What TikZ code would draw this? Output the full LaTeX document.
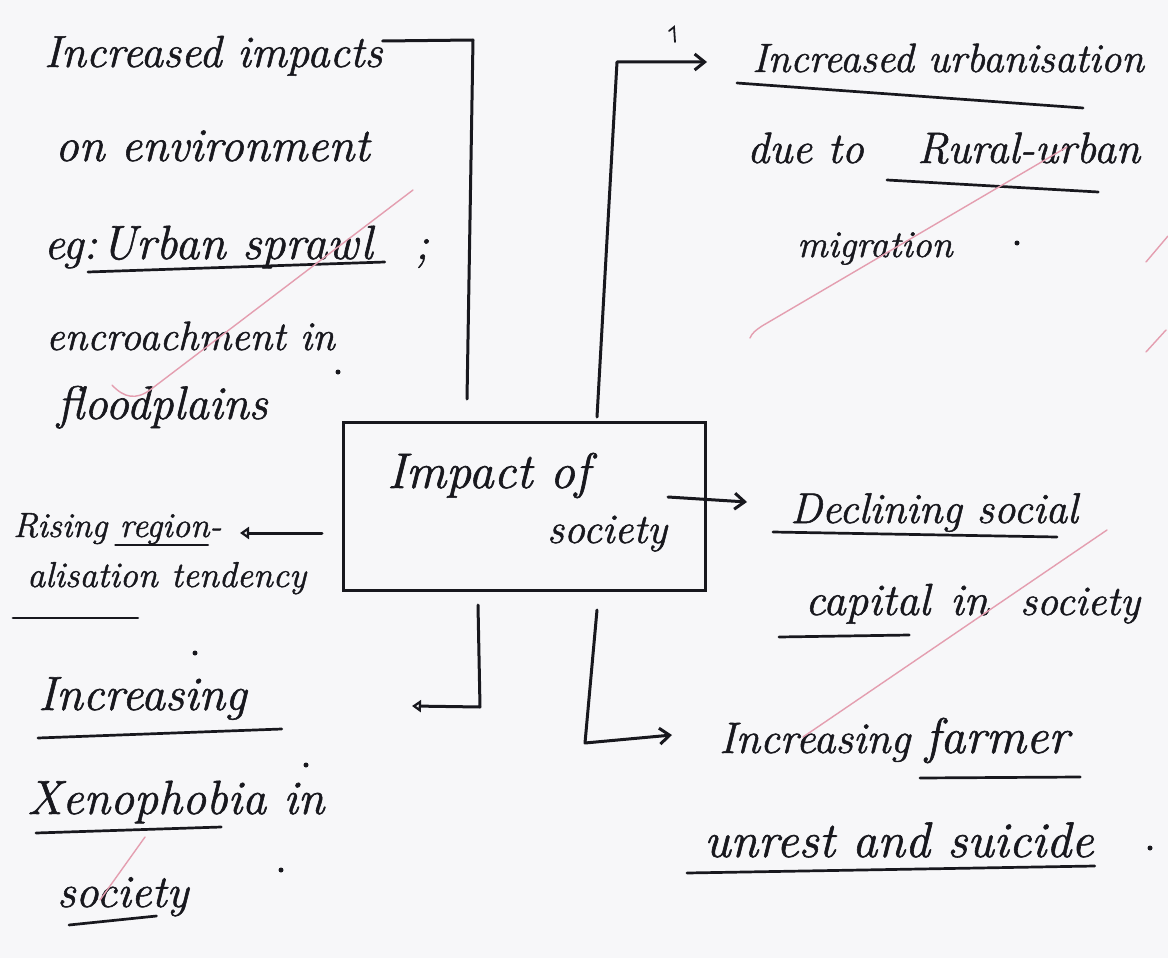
\documentclass[tikz,border=0pt]{standalone}
\usepackage{fontspec}
\usetikzlibrary{arrows.meta}
\definecolor{ink}{RGB}{24,24,30}
\definecolor{paper}{RGB}{247,247,249}
\definecolor{redpen}{RGB}{228,158,176}
\newfontfamily\handfont{lmroman12-italic.otf}[FakeBold=1.2]
\newcommand\hw[1]{\handfont\fontsize{#1}{#1}\selectfont}

\begin{document}
\begin{tikzpicture}[x=1pt,y=-1pt,
  txt/.style={inner sep=0pt, anchor=base west, text=ink},
  pen/.style={draw=ink, line width=3pt, line cap=round, line join=round},
  ul/.style={draw=ink, line width=2.7pt, line cap=round},
  barb/.style={pen, -{Straight Barb[length=10pt,width=16pt]}},
  tri/.style={pen, -{Triangle[open,length=9pt,width=12pt]}},
  redtick/.style={draw=redpen, line width=1.4pt, line cap=round},
  spot/.style={fill=ink, draw=none}]

% sheet
\fill[paper] (0,0) rectangle (1168,958);
\useasboundingbox (0,0) rectangle (1168,958);

% central box
\node[draw=ink, line width=3pt, minimum width=362pt, minimum height=168pt, inner sep=0pt] (box) at (524.5,506) {};
\node[txt, font=\hw{50}] (imp) at (387,488) {Impact of};
\node[txt, font=\hw{42}] (soc) at (547,543) {society};

% left column
\node[txt, font=\hw{45}] (l1) at (44,67) {Increased impacts};
\node[txt, font=\hw{47}] (l2) at (55,161) {on environment};
\node[txt, font=\hw{46}] (l3a) at (44,259) {eg:};
\node[txt, font=\hw{48}] (l3b) at (101,259) {Urban sprawl};
\node[txt, font=\hw{46}] (l3c) at (415,259) {;};
\node[txt, font=\hw{41}] (l4) at (46,350) {encroachment in};
\node[txt, font=\hw{47}] (l5) at (57,419) {floodplains};
\node[txt, font=\hw{35}] (l6a) at (13,537) {Rising};
\node[txt, font=\hw{35}] (l6b) at ([xshift=12pt]l6a.base east) {region-};
\node[txt, font=\hw{36}] (l7a) at (27,587) {alisation};
\node[txt, font=\hw{36}] (l7b) at ([xshift=13pt]l7a.base east) {tendency};
\node[txt, font=\hw{48}] (l8) at (38,710) {Increasing};
\node[txt, font=\hw{48}] (l9a) at (27,814) {Xenophobia};
\node[txt, font=\hw{48}] (l9b) at ([xshift=17pt]l9a.base east) {in};
\node[txt, font=\hw{46}] (l10) at (57,907) {society};

% right column
\node[txt, font=\hw{41}] (r1) at (752,72) {Increased urbanisation};
\node[txt, font=\hw{44}] (r2a) at (747,163) {due to};
\node[txt, font=\hw{44}] (r2b) at (917,163) {Rural-urban};
\node[txt, font=\hw{38}] (r3) at (797,257) {migration};
\node[txt, font=\hw{43}] (r4) at (790,523) {Declining social};
\node[txt, font=\hw{45}] (r5a) at (805,615) {capital};
\node[txt, font=\hw{45}] (r5b) at (950,615) {in};
\node[txt, font=\hw{42}] (r5c) at (1020,615) {society};
\node[txt, font=\hw{44}] (r6a) at (719,753) {Increasing};
\node[txt, font=\hw{50}] (r6b) at (925,753) {farmer};
\node[txt, font=\hw{50}] (r7) at (704,857) {unrest and suicide};

% underlines
\draw[ul] ([xshift=-13pt,yshift=-13pt]l3b.base west) -- ([xshift=12pt,yshift=-3pt]l3b.base east);
\draw[ul] ([xshift=-4pt,yshift=-8pt]l6b.base west) -- ([xshift=-14pt,yshift=-8pt]l6b.base east);
\draw[ul] ([xshift=-14pt,yshift=-31pt]l7a.base west) -- ([xshift=-20pt,yshift=-31pt]l7a.base east);
\draw[ul] ([yshift=-28pt]l8.base west) -- ([xshift=35pt,yshift=-19pt]l8.base east);
\draw[ul] ([xshift=9pt,yshift=-19pt]l9a.base west) -- ([xshift=-45pt,yshift=-13pt]l9a.base east);
\draw[ul] ([xshift=12pt,yshift=-18pt]l10.base west) -- ([xshift=-32pt,yshift=-9pt]l10.base east);
\draw[ul] ([xshift=-15pt,yshift=-11pt]r1.base west) -- ([xshift=-61pt,yshift=-36pt]r1.base east);
\draw[ul] ([xshift=-30pt,yshift=-17pt]r2b.base west) -- ([xshift=-42pt,yshift=-29pt]r2b.base east);
\draw[ul] ([xshift=-17pt,yshift=-9pt]r4.base west) -- ([xshift=-21pt,yshift=-14pt]r4.base east);
\draw[ul] ([xshift=-26pt,yshift=-22pt]r5a.base west) -- ([xshift=-21pt,yshift=-20pt]r5a.base east);
\draw[ul] ([xshift=-5pt,yshift=-25pt]r6b.base west) -- ([xshift=11pt,yshift=-24pt]r6b.base east);
\draw[ul] ([xshift=-17pt,yshift=-16pt]r7.base west) -- ([xshift=1pt,yshift=-9pt]r7.base east);

% connector corners and free ends
\coordinate (tlTop) at (473,40);
\coordinate (tlEnd) at (467,399);
\coordinate (trFoot) at (597,417);
\coordinate (trTop) at (617,62);
\coordinate (trTip) at (707,62);
\coordinate (lfStart) at (322,533);
\coordinate (lfTip) at (240,533);
\coordinate (blTop) at (478,605);
\coordinate (blCorner) at (480,707);
\coordinate (blTip) at (412,706);
\coordinate (brTop) at (597,610);
\coordinate (brCorner) at (585,743);
\coordinate (brTip) at (672,735);

% connectors
\draw[pen] ([yshift=26pt]l1.base east) -- (tlTop) -- (tlEnd);
\draw[barb] (trFoot) -- (trTop) -- (trTip);
\draw[barb] ([xshift=-39pt,yshift=9pt]box.east) -- ([xshift=40pt,yshift=4pt]box.east);
\draw[tri] (lfStart) -- (lfTip);
\draw[tri] (blTop) -- (blCorner) -- (blTip);
\draw[barb] (brTop) -- (brCorner) -- (brTip);

% small stroke above the top arrow
\draw[ink, line width=1.8pt, line cap=round] (669,31) -- (674,27) -- (675,42);

% full stops
\fill[spot] (1017,243) circle (2.5pt);
\fill[spot] (1150,848) circle (2.5pt);
\fill[spot] (195,653) circle (2.5pt);
\fill[spot] (306,765) circle (2.5pt);
\fill[spot] (281,870) circle (2.5pt);
\fill[spot] (338,372) circle (2.5pt);

% red-pen ticks
\draw[redtick] (413,190) -- (150,390) .. controls (136,400) and (124,398) .. (112,385);
\draw[redtick] (1067,147) -- (762,326) .. controls (756,330) and (752,333) .. (750,338);
\draw[redtick] (1107,530) -- (803,737);
\draw[redtick] (145,837) -- (100,900);
\draw[redtick] (1146,262) -- (1168,236);
\draw[redtick] (1146,352) -- (1166,330);
\end{tikzpicture}
\end{document}
